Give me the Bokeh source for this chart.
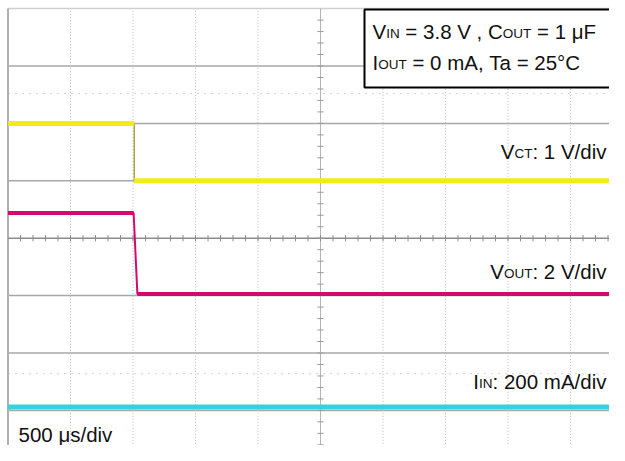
import numpy as np
from bokeh.plotting import figure
from bokeh.models import Range1d, Label, BoxAnnotation
from bokeh.embed import file_html
from bokeh.resources import INLINE

# ---------------- data (in scope divisions; 0,0 = screen centre) ----------------
vct_time = [-5.0, -2.98, -2.98, 5.0]      # V_CT trace (1 V/div)
vct_level = [2.0, 2.0, 1.0, 1.0]
vout_time = [-5.0, -2.99, -2.93, 5.0]     # V_OUT trace (2 V/div)
vout_level = [0.44, 0.44, -0.97, -0.97]
iin_time = [-5.0, 5.0]                    # I_IN trace (200 mA/div)
iin_level = [-2.94, -2.94]

h_grid = [-3, -2, -1, 1, 2, 3]
v_grid = [-4, -3, -2, -1, 1, 2, 3, 4]

# ---------------- geometry ----------------
W, H = 609, 445
DX, DY = 62.5, 57.4          # pixels per division
X0 = -320.0 / DX
Y1 = 237.7 / DY
x_range = Range1d(X0, X0 + W / DX)
y_range = Range1d(Y1 - H / DY, Y1)

p = figure(width=W, height=H, x_range=x_range, y_range=y_range,
           output_backend="svg", toolbar_location=None, min_border=0)
p.axis.visible = False
p.grid.visible = False
p.outline_line_color = None
p.background_fill_color = "white"
p.border_fill_color = "white"

# ---------------- graticule ----------------
XL, XR = -5.0, 5.0
YB, YT = -4.0, 4.0
p.segment(x0=[XL] * len(h_grid), x1=[XR] * len(h_grid), y0=h_grid, y1=h_grid,
          line_color="#a8a8a8", line_width=1.5)
p.segment(x0=v_grid, x1=v_grid, y0=[YB] * len(v_grid), y1=[YT] * len(v_grid),
          line_color="#b8b8b8", line_width=1, line_dash="1 2")
# faint reference markers
p.segment(x0=[XL, XL], x1=[XR, XR], y0=[2.52, -2.36], y1=[2.52, -2.36],
          line_color="#d4d4d4", line_width=1, line_dash="2 5")
# top border / left border
p.segment(x0=[XL], x1=[XR], y0=[YT], y1=[YT], line_color="#d0d0d0", line_width=1.5)
p.segment(x0=[XL], x1=[XL], y0=[YB], y1=[YT], line_color="#b0b0b0", line_width=2)
# centre cross with minor ticks
p.segment(x0=[XL], x1=[XR], y0=[0], y1=[0], line_color="#8c8c8c", line_width=1.5)
p.segment(x0=[0], x1=[0], y0=[YB], y1=[YT], line_color="#b4b4b4", line_width=1)
tx = np.arange(-24, 25) * 0.2
p.segment(x0=tx, x1=tx, y0=[-0.055] * len(tx), y1=[0.055] * len(tx),
          line_color="#8c8c8c", line_width=1)
ty = np.arange(-19, 20) * 0.2
p.segment(x0=[-0.05] * len(ty), x1=[0.05] * len(ty), y0=ty, y1=ty,
          line_color="#9a9a9a", line_width=1)

# ---------------- traces ----------------
YEL, MAG, CYA = "#f0ec14", "#d6086e", "#30d4dc"
p.line(iin_time, iin_level, line_color=CYA, line_width=5)
p.line(vout_time, vout_level, line_color=MAG, line_width=2)
p.line(vout_time[:2], vout_level[:2], line_color=MAG, line_width=4)
p.line(vout_time[2:], vout_level[2:], line_color=MAG, line_width=4)
p.line(vct_time[1:3], vct_level[1:3], line_color="#a9a63a", line_width=1.5)
p.line(vct_time[:2], vct_level[:2], line_color=YEL, line_width=5)
p.line(vct_time[2:], vct_level[2:], line_color=YEL, line_width=5)

# ---------------- annotations ----------------
box = BoxAnnotation(left=0.704, right=6.0, bottom=2.625, top=3.984,
                    fill_color="white", fill_alpha=1.0,
                    line_color="black", line_alpha=1.0, line_width=2,
                    level="annotation")
p.add_layout(box)

FONT = "Liberation Sans"
MAIN, SUB = 20.5, 13.5
NB = "\u00a0"
SHIFT = 7.0 / DY   # compensate the renderer's baseline placement
AW = {' ': 278, NB: 278, '=': 584, '.': 278, ',': 278, ':': 278, '/': 278, '°': 400, 'μ': 576,
      '0': 556, '1': 556, '2': 556, '3': 556, '5': 556, '8': 556,
      'V': 667, 'C': 722, 'I': 278, 'T': 611, 'O': 778, 'U': 722, 'N': 722, 'F': 611,
      'm': 833, 'A': 667, 'a': 556, 'd': 556, 'i': 222, 'v': 500, 's': 500}


def width(txt, size):
    return sum(AW.get(c, 556) for c in txt) * size / 1000.0


def rich(x, y, pieces, align="left"):
    pieces = [(t.replace(" ", NB), s) for t, s in pieces]
    total = sum(width(t, SUB if s else MAIN) for t, s in pieces)
    cx = 0.0 if align == "left" else -total
    for t, s in pieces:
        size = SUB if s else MAIN
        p.add_layout(Label(x=x + cx / DX, y=y + SHIFT - (2.0 / DY if s else 0.0), text=t,
                           text_font=FONT, text_font_size=f"{size}px",
                           text_color="#111111", text_align="left",
                           text_baseline="alphabetic"))
        cx += width(t, size)


rich(0.832, 3.479, [("V", 0), ("IN", 1), (" = 3.8 V , C", 0), ("OUT", 1), (" = 1 μF", 0)])
rich(0.832, 2.939, [("I", 0), ("OUT", 1), (" = 0 mA, Ta = 25°C", 0)])
rich(4.576, 1.389, [("V", 0), ("CT", 1), (": 1 V/div", 0)], align="right")
rich(4.576, -0.702, [("V", 0), ("OUT", 1), (": 2 V/div", 0)], align="right")
rich(4.576, -2.618, [("I", 0), ("IN", 1), (": 200 mA/div", 0)], align="right")
rich(-4.832, -3.541, [("500 μs/div", 0)])

open("out.html", "w").write(file_html(p, INLINE))
